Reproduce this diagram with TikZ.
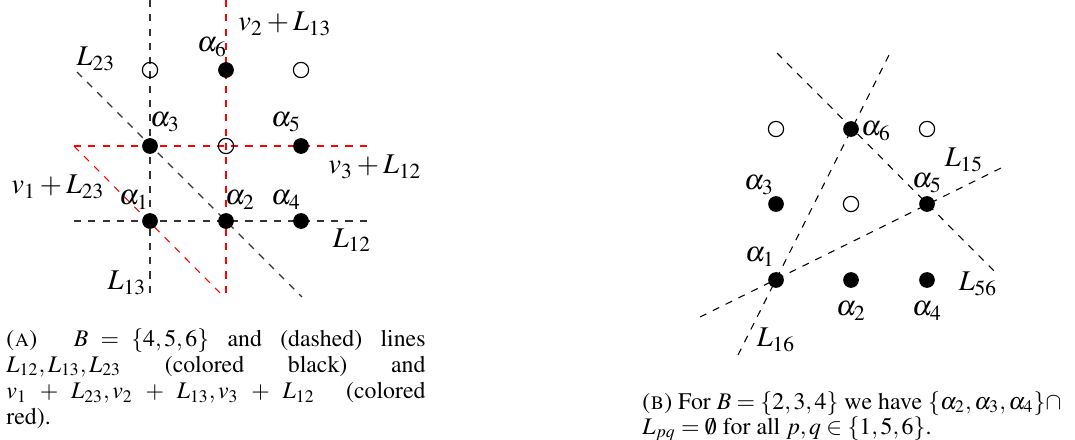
\documentclass[tikz,border=0pt]{standalone}
\usepackage[T1]{fontenc}
\usepackage{mathptmx}
\usepackage{amssymb}
\usetikzlibrary{positioning}

\begin{document}
\begin{tikzpicture}[x=0.42pt,y=-0.42pt,font=\fontsize{10}{12}\selectfont,
  full/.style={circle,fill=black,inner sep=0pt,minimum size=6.6pt},
  hollow/.style={circle,draw=black,line width=0.5pt,inner sep=0pt,minimum size=6.4pt},
  blk/.style={dashed,draw=black!80,line width=0.45pt},
  redl/.style={dashed,draw=red,line width=0.45pt},
  lbl/.style={inner sep=0pt,font=\fontsize{12}{14}\selectfont},
  capline/.style={inner sep=0pt,anchor=base west}]
  \useasboundingbox (0,0) rectangle (1075,439);
  % (A) lines first, points on top
  \coordinate (l13t) at (150,0);   \coordinate (l13b) at (150,297);
  \coordinate (m13t) at (226,0);   \coordinate (m13b) at (226,297);
  \coordinate (l12l) at (74,221);  \coordinate (l12r) at (370,221);
  \coordinate (m12l) at (74,146);  \coordinate (m12r) at (370,146);
  \coordinate (l23t) at (77,72);   \coordinate (l23b) at (302,297);
  \coordinate (m23b) at (224,297);
  \draw[blk] (l13t) -- (l13b);
  \draw[blk] (l12l) -- (l12r);
  \draw[blk] (l23t) -- (l23b);
  \draw[redl] (m13t) -- (m13b);
  \draw[redl] (m12l) -- (m12r);
  \draw[redl] (m12l) -- (m23b);
  \foreach \n/\x/\y/\s in {a1/150/221/full,a2/226/221/full,a4/301/221/full,
                           a3/150/146/full,o2/226/146/hollow,a5/301/146/full,
                           o1/150/70/hollow,a6/226/70/full,o3/301/70/hollow}
    \node[\s] (\n) at (\x,\y) {};
  \node[lbl] (ta1) at (134,200) {$\alpha_1$};
  \node[lbl] (ta2) at (240,200) {$\alpha_2$};
  \node[lbl] (ta4) at (286,200) {$\alpha_4$};
  \node[lbl] (ta3) at (165,122) {$\alpha_3$};
  \node[lbl] (ta5) at (286,122) {$\alpha_5$};
  \node[lbl] (ta6) at (212,47) {$\alpha_6$};
  \node[lbl] (tl23) at (96,59) {$L_{23}$};
  \node[lbl] (tm13) at (285,24) {$v_2+L_{13}$};
  \node[lbl] (tm12) at (375,167) {$v_3+L_{12}$};
  \node[lbl] (tm23) at (58,187) {$v_1+L_{23}$};
  \node[lbl] (tl12) at (352,240) {$L_{12}$};
  \node[lbl] (tl13) at (127,283) {$L_{13}$};
  \node[inner sep=0pt,anchor=north west,text width=176pt,align=justify,
        font=\fontsize{10}{11}\selectfont] (capa) at (6,328)
   {(\textsc{a})\ \ $B=\{4,5,6\}$ and (dashed) lines\linebreak
    $L_{12},L_{13},L_{23}$ (colored black) and\linebreak
    $v_1+L_{23},v_2+L_{13},v_3+L_{12}$ (colored\linebreak
    red).};
  % (B)
  \coordinate (k16b) at (738,355); \coordinate (k16t) at (890,53);
  \coordinate (k56t) at (777,53);  \coordinate (k56b) at (995,272);
  \coordinate (k15l) at (700,317); \coordinate (k15r) at (1003,167);
  \draw[blk,draw=black] (k16b) -- (k16t);
  \draw[blk,draw=black] (k56t) -- (k56b);
  \draw[blk,draw=black] (k15l) -- (k15r);
  \foreach \n/\x/\y/\s in {b1/776/280/full,b2/851/280/full,b4/927/280/full,
                           b3/776/204/full,p2/851/204/hollow,b5/927/204/full,
                           p1/776/129/hollow,b6/851/129/full,p3/927/129/hollow}
    \node[\s] (\n) at (\x,\y) {};
  \node[lbl] (tb6) at (876,131) {$\alpha_6$};
  \node[lbl] (tb3) at (759,185) {$\alpha_3$};
  \node[lbl] (tb5) at (927,183) {$\alpha_5$};
  \node[lbl] (tb1) at (760,257) {$\alpha_1$};
  \node[lbl] (tb2) at (851,311) {$\alpha_2$};
  \node[lbl] (tb4) at (927,311) {$\alpha_4$};
  \node[lbl] (tk15) at (964,160) {$L_{15}$};
  \node[lbl] (tk56) at (978,284) {$L_{56}$};
  \node[lbl] (tk16) at (776,340) {$L_{16}$};
  \node[capline] (capb1) at (642,409)
   {(\textsc{b}) For $B=\{2,3,4\}$ we have $\{\alpha_2,\alpha_3,\alpha_4\}\cap$};
  \node[capline] (capb2) at (642,434)
   {$L_{pq}=\emptyset$ for all $p,q\in\{1,5,6\}$.};
\end{tikzpicture}
\end{document}
